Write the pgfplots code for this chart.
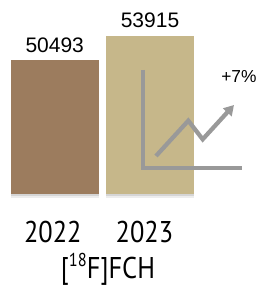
\documentclass[border=0pt]{standalone}
\usepackage{fontspec}
\setmainfont{Liberation Sans}
\newfontfamily\yearfont[FakeStretch=0.88]{PT Sans}
\usepackage{pgfplots}
\pgfplotsset{compat=1.18}
\usetikzlibrary{arrows.meta}
\definecolor{brownbar}{HTML}{9C7C5E}
\definecolor{tanbar}{HTML}{C6B78A}
\definecolor{icongray}{HTML}{999999}
\begin{document}
\begin{tikzpicture}
\begin{axis}[at={(0,0)}, anchor=south west, width=192pt, height=216.75pt,
  scale only axis, hide axis,
  xmin=-0.574, xmax=2.112, ymin=-13378, ymax=27320,
  ybar, bar width=0.923,
  y filter/.expression={y-31623},
  point meta=explicit,
  /pgf/number format/assume math mode=true,
  nodes near coords={\pgfmathprintnumber[fixed,precision=0,1000 sep={},assume math mode=true]{\pgfplotspointmeta}},
  every node near coord/.append style={font=\fontsize{15.75pt}{18pt}\selectfont, inner sep=0pt, anchor=south, yshift=5.5pt, text=black},
  clip=false]
\addplot[fill=brownbar, draw=none, bar shift=0pt,
  preaction={fill=black, fill opacity=0.10, transform canvas={yshift=-1.5pt}},
  preaction={fill=black, fill opacity=0.07, transform canvas={yshift=-3pt}}]
  coordinates {(0,50493) [50493]};
\addplot[fill=tanbar, draw=none, bar shift=0pt,
  preaction={fill=black, fill opacity=0.10, transform canvas={yshift=-1.5pt}},
  preaction={fill=black, fill opacity=0.07, transform canvas={yshift=-3pt}}]
  coordinates {(1,53915) [53915]};
\end{axis}
\begin{axis}[at={(0,0)}, anchor=south west, width=192pt, height=216.75pt,
  scale only axis, hide axis,
  xmin=0, xmax=256, ymin=0, ymax=289, clip=false]
\addplot[icongray, line width=3pt, line join=miter] coordinates {(142.7,219) (142.7,120.5) (241.7,120.5)};
\addplot[icongray, line width=3.2pt, line join=miter, -{Triangle[length=7.5pt,width=8.5pt]}] coordinates {(156,133) (188.3,168.3) (202.7,149.7) (234,184)};
\node[anchor=base, font=\yearfont\fontsize{22.5pt}{26pt}\selectfont, inner sep=0pt] at (axis cs:52.8,46.3) {2022};
\node[anchor=base, font=\yearfont\fontsize{22.5pt}{26pt}\selectfont, inner sep=0pt] at (axis cs:144.4,46.3) {2023};
\node[anchor=base, font=\yearfont\fontsize{22.5pt}{26pt}\selectfont, inner sep=0pt] at (axis cs:108,11) {[\raisebox{0.38em}{\fontsize{14pt}{16pt}\selectfont 18}F]FCH};
\node[anchor=base west, font=\fontsize{13pt}{15pt}\selectfont, inner sep=0pt] at (axis cs:221,206.7) {+7\%};
\end{axis}
\pgfresetboundingbox
\path[use as bounding box] (0,0) rectangle (192pt,216.75pt);
\end{tikzpicture}
\end{document}
